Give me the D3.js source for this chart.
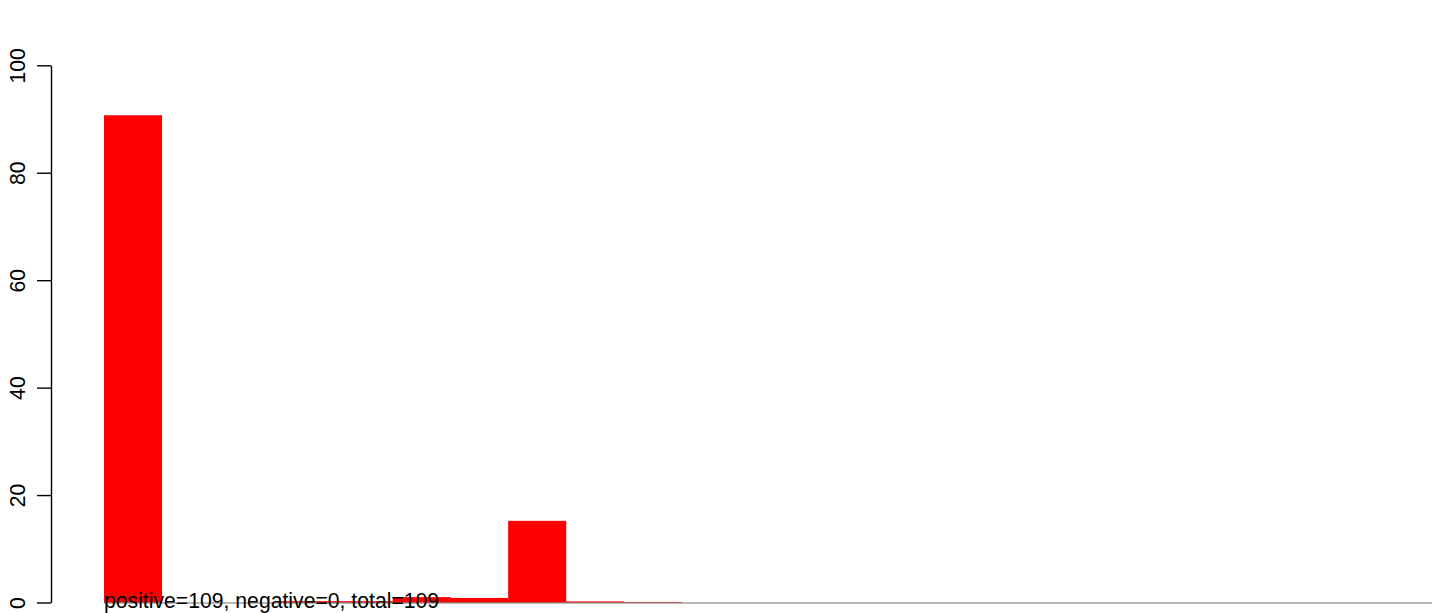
<!DOCTYPE html>
<html>
<head>
<meta charset="utf-8">
<script src="https://cdn.jsdelivr.net/npm/d3@7"></script>
<style>
  html, body { margin: 0; padding: 0; background: #fff; }
  svg { display: block; font-family: "Liberation Sans", Arial, sans-serif; }
</style>
</head>
<body>
<svg id="chart" width="1444" height="613"></svg>
<script>
// Data
const categories = d3.range(1, 24).map(String);
const values = [90.7, 0, 0, 0.25, 0.25, 1.0, 0.85, 15.2, 0.2, 0.1,
                0, 0, 0, 0, 0, 0, 0, 0, 0, 0, 0, 0, 0];
const yTicks = [0, 20, 40, 60, 80, 100];
const annotation = "positive=109, negative=0, total=109";

const svg = d3.select("#chart");
const x = d3.scaleBand().domain(categories).range([104, 1432]).padding(0);
const y = d3.scaleLinear().domain([0, 100]).range([602.5, 65.3]);

// bars
svg.append("g").selectAll("rect")
  .data(values)
  .join("rect")
  .attr("x", (d, i) => x(categories[i]))
  .attr("width", x.bandwidth() + 0.3)
  .attr("y", d => y(d))
  .attr("height", d => y(0) - y(d))
  .attr("fill", "#ff0000");

// baseline (zero-height bar borders)
svg.append("line")
  .attr("x1", x(categories[0]))
  .attr("x2", x(categories[categories.length - 1]) + x.bandwidth())
  .attr("y1", 603).attr("y2", 603)
  .attr("stroke", "#000").attr("stroke-width", 1).attr("stroke-opacity", 0.55);

// y axis
const yAxis = d3.axisLeft(y).tickValues(yTicks).tickSize(14).tickSizeOuter(0).tickFormat(d3.format("d"));
const gy = svg.append("g").attr("transform", "translate(51,0)").call(yAxis);
gy.select(".domain").attr("stroke", "#000").attr("stroke-width", 1.4);
gy.selectAll(".tick line").attr("stroke", "#000").attr("stroke-width", 1.4);
gy.selectAll(".tick text")
  .attr("transform", "rotate(-90)")
  .attr("x", 0).attr("y", -26).attr("dy", 0)
  .attr("text-anchor", "middle")
  .attr("fill", "#000")
  .style("font-size", "21.2px")
  .style("font-family", "'Liberation Sans', Arial, sans-serif");

// annotation
svg.append("text")
  .attr("x", x(categories[0]))
  .attr("y", 608)
  .attr("fill", "#000")
  .style("font-size", "21.2px")
  .text(annotation);
</script>
</body>
</html>
